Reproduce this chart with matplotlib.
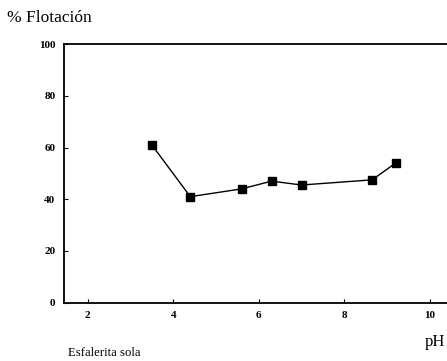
import matplotlib.pyplot as plt

#datos
ph = [3.5, 4.4, 5.6, 6.3, 7.0, 8.65, 9.2]
flotacion = [61, 41, 44, 47, 45.5, 47.5, 54]
xticks = [2, 4, 6, 8, 10]
yticks = [0, 20, 40, 60, 80, 100]

plt.rcParams['font.family'] = ['Liberation Serif', 'DejaVu Serif']

fig = plt.figure(figsize=(4.47, 3.61), dpi=100)
ax = fig.add_axes([0.1425, 0.1615, 0.8575, 0.7165])

ax.plot(ph, flotacion, color='black', linewidth=1.0, marker='s',
        markersize=6, markerfacecolor='black', markeredgecolor='black')

ax.set_xlim(1.44, 10.40)
ax.set_ylim(0, 100)
ax.set_xticks(xticks)
ax.set_yticks(yticks)
ax.tick_params(direction='in', length=3, width=0.8, labelsize=8)
ax.tick_params(axis='x', pad=6)
ax.tick_params(axis='y', pad=6)
for lbl in ax.get_xticklabels() + ax.get_yticklabels():
    lbl.set_fontweight('bold')

ax.spines['right'].set_visible(False)
for s in ['left', 'top', 'bottom']:
    ax.spines[s].set_linewidth(1.3)

fig.text(0.016, 0.95, '% Flotación', fontsize=12.5, ha='left', va='center')
fig.text(0.996, 0.052, 'pH', fontsize=12, ha='right', va='center')
fig.text(0.152, 0.022, 'Esfalerita sola', fontsize=9.2, ha='left', va='center')

fig.savefig('out.png', dpi=100)
